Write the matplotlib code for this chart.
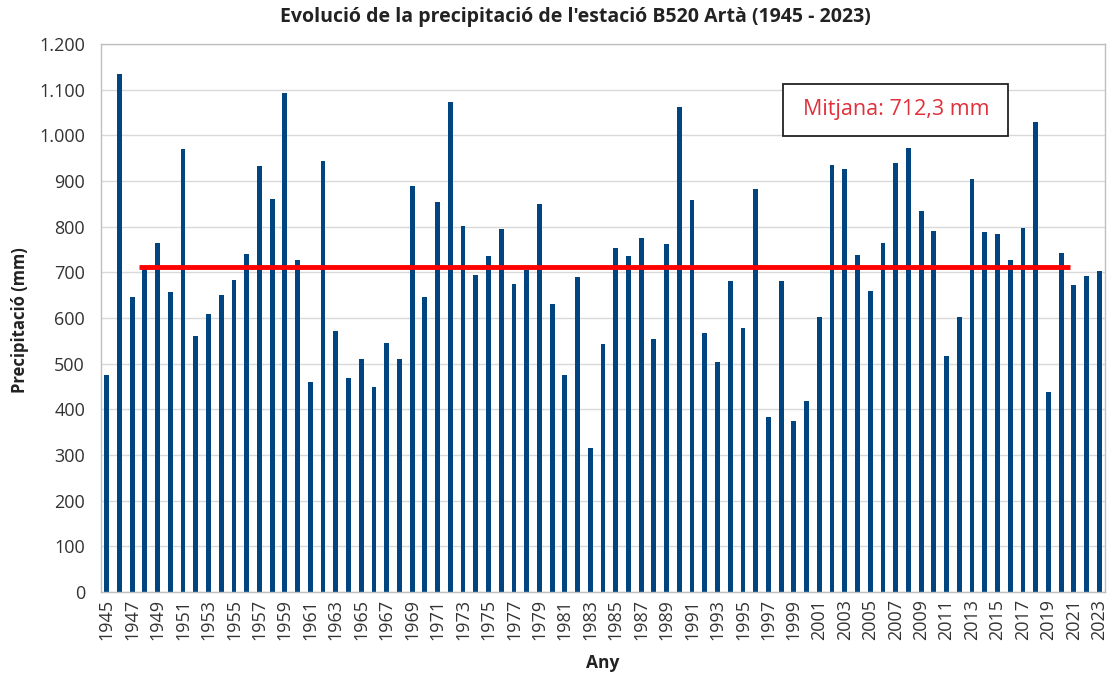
import numpy as np
import matplotlib
matplotlib.use("Agg")
import matplotlib.pyplot as plt
from matplotlib.patches import Rectangle
from matplotlib.ticker import FuncFormatter

plt.rcParams["font.family"] = ["Open Sans", "DejaVu Sans"]

# annual precipitation, station B520 Artà
years = list(range(1945, 2024))
precip = [
    475, 1135, 645, 707, 764, 656, 971, 561, 609, 651,
    684, 741, 932, 860, 1092, 727, 459, 944, 571, 469,
    510, 448, 545, 510, 889, 647, 854, 1073, 802, 694,
    735, 794, 674, 705, 850, 631, 475, 690, 315, 544,
    754, 735, 775, 555, 762, 1061, 858, 567, 504, 680,
    578, 883, 384, 682, 375, 419, 602, 936, 926, 738,
    659, 764, 939, 972, 834, 791, 516, 603, 905, 788,
    784, 727, 797, 1030, 438, 742, 672, 691, 702,
]
mean_value = 712.3
mean_span = [1947.55, 2020.7]
mean_label = "Mitjana: 712,3 mm"

W, H = 1119, 677
fig = plt.figure(figsize=(W / 100, H / 100), dpi=100)
ax = fig.add_axes([101 / W, 1 - 592 / H, (1105 - 101) / W, (592 - 44) / H])

ax.bar(years, precip, width=0.38, color="#00457F", zorder=2)
ax.plot(mean_span, [mean_value, mean_value], color="#FF0000", lw=3.5,
        solid_capstyle="butt", zorder=3)

ax.set_xlim(1944.55, 2023.45)
ax.set_ylim(0, 1200)
ax.set_yticks(np.arange(0, 1201, 100))
ax.yaxis.set_major_formatter(FuncFormatter(lambda v, p: f"{int(v):,}".replace(",", ".")))
ax.set_xticks(years[::2])
ax.set_xticklabels([str(y) for y in years[::2]], rotation=90)
ax.tick_params(length=0, colors="#333333")
ax.tick_params(axis="y", labelsize=13, pad=11.5)
ax.tick_params(axis="x", labelsize=13, pad=5)
ax.grid(axis="y", color="#D9D9D9", lw=1, zorder=0)
for s in ax.spines.values():
    s.set_color("#BFBFBF")
    s.set_linewidth(1)

fig.text(575 / W, 1 - 17 / H, "Evolució de la precipitació de l'estació B520 Artà (1945 - 2023)",
         ha="center", va="center", fontsize=14, fontweight="bold", color="#222222")
fig.text(20 / W, 1 - 320 / H, "Precipitació (mm)", rotation=90, ha="center", va="center",
         fontsize=12, fontweight="bold", color="#222222")
fig.text(603 / W, 1 - 663 / H, "Any", ha="center", va="center",
         fontsize=12.5, fontweight="bold", color="#222222")

# mean label box
fig.add_artist(Rectangle((783 / W, 1 - 136 / H), (1008 - 783) / W, (136 - 84) / H,
                         transform=fig.transFigure, facecolor="white",
                         edgecolor="#222222", lw=1.3, zorder=5))
fig.text(896 / W, 1 - 110 / H, mean_label, ha="center", va="center",
         fontsize=15.5, color="#E0303A", zorder=6)

fig.savefig("out.png", dpi=100)
